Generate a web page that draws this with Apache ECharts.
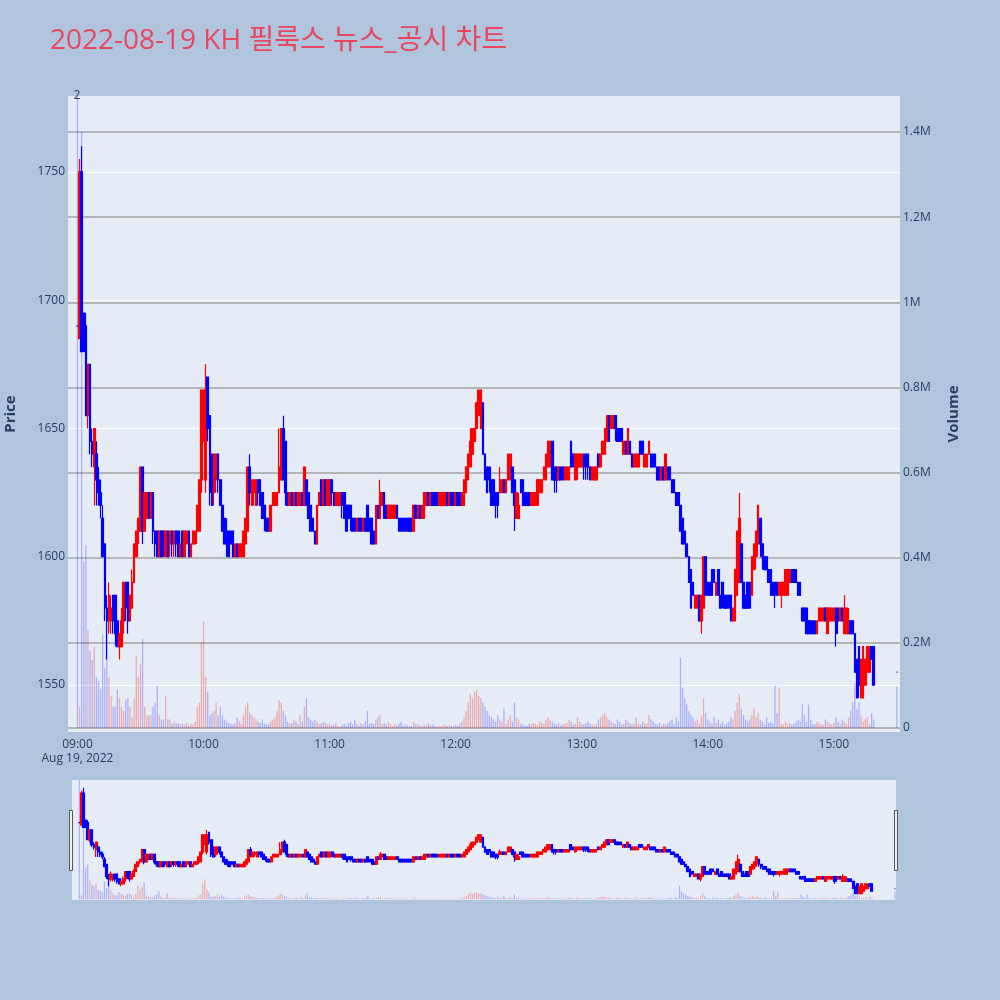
<!DOCTYPE html>
<html><head><meta charset="utf-8">
<script src="https://cdn.jsdelivr.net/npm/echarts@6/dist/echarts.min.js"></script>
<style>html,body{margin:0;padding:0;background:#b0c4de}#c{width:1000px;height:1000px}</style>
</head><body><div id="c"></div><script>
// ---------------- DATA ----------------
const titleText = '2022-08-19 KH 필룩스 뉴스_공시 차트';
const dateLabel = 'Aug 19, 2022';
const firstTime = '09:00';           // time of ohlc[0]
// one row per minute from 09:00 : [open, close, low, high]; null = no trade
const ohlc = [
[1690,1690,1690,1690],[1685,1750,1685,1755],[1750,1680,1680,1760],[1695,1680,1680,1695],[1690,1655,1655,1695],[1655,1675,1650,1675],[1675,1645,1640,1675],[1645,1640,1635,1650],[1635,1650,1620,1650],[1640,1630,1620,1645],
[1630,1625,1620,1635],[1625,1620,1615,1630],[1615,1600,1600,1620],[1605,1580,1575,1605],[1580,1575,1560,1585],[1575,1585,1570,1590],[1575,1580,1570,1585],[1585,1575,1570,1585],[1585,1570,1565,1585],[1575,1565,1565,1575],
[1565,1570,1560,1570],[1565,1575,1565,1580],[1575,1590,1570,1590],[1590,1580,1575,1590],[1590,1575,1570,1590],[1575,1585,1575,1585],[1580,1590,1580,1595],[1590,1605,1590,1605],[1600,1610,1600,1610],[1610,1615,1605,1615],
[1610,1635,1610,1635],[1635,1610,1605,1635],[1610,1625,1610,1625],[1615,1625,1615,1625],[1625,1615,1615,1625],[1615,1625,1615,1625],[1625,1610,1605,1625],[1610,1605,1600,1610],[1610,1600,1600,1610],[1600,1610,1600,1610],
[1610,1600,1600,1610],[1610,1605,1600,1610],[1600,1610,1600,1610],[1610,1600,1600,1610],[1605,1610,1600,1610],[1610,1605,1600,1610],[1605,1610,1600,1610],[1610,1605,1600,1610],[1610,1600,1600,1610],[1600,1605,1600,1605],
[1610,1600,1600,1610],[1600,1610,1600,1610],[1605,1610,1605,1610],[1610,1600,1600,1610],[1600,1605,1600,1605],[1605,1610,1605,1610],[1605,1610,1605,1610],[1610,1620,1605,1620],[1610,1630,1610,1630],[1630,1665,1625,1665],
[1645,1665,1645,1665],[1630,1665,1625,1675],[1670,1650,1645,1670],[1655,1625,1620,1655],[1640,1620,1620,1640],[1625,1640,1620,1640],[1630,1640,1625,1640],[1640,1630,1625,1640],[1630,1620,1620,1630],[1620,1610,1610,1620],
[1615,1605,1605,1615],[1610,1605,1600,1615],[1610,1600,1600,1610],[1610,1605,1605,1610],[1610,1600,1600,1610],[1600,1605,1600,1605],[1605,1600,1600,1605],[1600,1605,1600,1605],[1600,1605,1600,1605],[1600,1610,1600,1610],
[1605,1615,1605,1615],[1610,1635,1610,1635],[1635,1625,1620,1640],[1620,1630,1620,1630],[1625,1630,1620,1630],[1620,1630,1620,1630],[1630,1625,1620,1630],[1630,1620,1620,1630],[1625,1615,1615,1625],[1620,1615,1610,1620],
[1615,1610,1610,1615],[1615,1610,1610,1615],[1610,1620,1610,1620],[1620,1625,1620,1625],[1620,1625,1620,1625],[1620,1625,1620,1625],[1625,1635,1625,1650],[1630,1650,1630,1650],[1650,1630,1630,1655],[1645,1625,1620,1645],
[1625,1620,1620,1625],[1620,1625,1620,1625],[1625,1620,1620,1625],[1620,1625,1620,1625],[1625,1620,1620,1625],[1620,1625,1620,1625],[1620,1625,1620,1625],[1625,1620,1620,1625],[1620,1635,1620,1635],[1630,1620,1620,1630],
[1625,1615,1615,1625],[1620,1610,1610,1620],[1615,1610,1610,1615],[1610,1605,1605,1610],[1605,1620,1605,1620],[1620,1625,1620,1625],[1630,1620,1620,1630],[1620,1630,1620,1630],[1630,1620,1620,1630],[1620,1630,1620,1630],
[1620,1630,1620,1630],[1630,1625,1620,1630],[1625,1620,1620,1625],[1620,1625,1620,1625],[1620,1625,1620,1625],[1620,1625,1620,1625],[1625,1620,1615,1625],[1625,1615,1615,1625],[1620,1610,1610,1620],[1620,1615,1615,1620],
[1620,1615,1610,1620],[1615,1610,1610,1615],[1615,1610,1610,1615],[1610,1615,1610,1615],[1615,1610,1610,1615],[1615,1610,1610,1615],[1610,1615,1610,1615],[1615,1610,1610,1615],[1620,1610,1610,1620],[1615,1610,1610,1615],
[1615,1605,1605,1615],[1610,1605,1605,1610],[1605,1620,1605,1620],[1620,1615,1615,1620],[1615,1625,1615,1630],[1620,1625,1620,1625],[1625,1615,1615,1625],[1620,1615,1615,1620],[1615,1620,1615,1620],[1615,1620,1615,1620],
[1615,1620,1615,1620],[1615,1620,1615,1620],[1620,1615,1615,1620],[1615,1610,1610,1615],[1615,1610,1610,1615],[1615,1610,1610,1615],[1615,1610,1610,1615],[1615,1610,1610,1615],[1615,1610,1610,1615],[1615,1610,1610,1615],
[1610,1620,1610,1620],[1620,1615,1615,1620],[1615,1620,1615,1620],[1620,1615,1615,1620],[1615,1620,1615,1620],[1615,1625,1615,1625],[1620,1625,1620,1625],[1625,1620,1620,1625],[1620,1625,1620,1625],[1625,1620,1620,1625],
[1625,1620,1620,1625],[1625,1620,1620,1625],[1620,1625,1620,1625],[1620,1625,1620,1625],[1620,1625,1620,1625],[1620,1625,1620,1625],[1625,1620,1620,1625],[1620,1625,1620,1625],[1625,1620,1620,1625],[1625,1620,1620,1625],
[1620,1625,1620,1625],[1625,1620,1620,1625],[1625,1620,1620,1625],[1620,1625,1620,1625],[1620,1630,1620,1630],[1625,1635,1625,1635],[1630,1640,1630,1640],[1635,1645,1635,1650],[1640,1650,1640,1650],[1645,1650,1645,1650],
[1650,1660,1650,1660],[1655,1665,1655,1665],[1650,1665,1650,1665],[1660,1640,1640,1660],[1640,1630,1630,1640],[1635,1625,1625,1635],[1635,1630,1625,1635],[1630,1620,1620,1630],[1630,1620,1620,1630],[1625,1620,1615,1625],
[1625,1620,1615,1625],[1625,1630,1625,1635],[1625,1630,1625,1630],[1630,1625,1625,1630],[1625,1630,1625,1630],[1630,1640,1630,1640],[1630,1640,1630,1640],[1635,1625,1625,1635],[1630,1620,1610,1630],[1615,1625,1615,1625],
[1615,1620,1615,1625],[1630,1625,1625,1630],[1630,1620,1620,1630],[1625,1620,1620,1625],[1625,1620,1620,1625],[1625,1620,1620,1625],[1620,1625,1620,1625],[1620,1625,1620,1625],[1620,1625,1620,1625],[1620,1630,1620,1630],
[1625,1630,1625,1630],[1625,1630,1625,1630],[1630,1635,1630,1635],[1630,1640,1630,1640],[1635,1645,1635,1645],[1635,1645,1635,1645],[1645,1630,1630,1645],[1635,1630,1625,1635],[1635,1630,1625,1635],[1630,1635,1630,1635],
[1635,1630,1630,1635],[1635,1630,1630,1635],[1630,1635,1630,1635],[1630,1635,1630,1635],[1630,1635,1630,1635],[1645,1635,1635,1645],[1640,1635,1635,1640],[1630,1640,1630,1640],[1635,1640,1630,1640],[1635,1640,1635,1640],
[1635,1640,1635,1640],[1640,1635,1630,1640],[1640,1635,1630,1640],[1640,1635,1630,1640],[1635,1630,1630,1635],[1630,1635,1630,1635],[1630,1635,1630,1635],[1630,1635,1630,1635],[1640,1635,1635,1640],[1635,1640,1635,1640],
[1640,1645,1640,1645],[1640,1650,1640,1650],[1645,1655,1645,1655],[1655,1645,1645,1655],[1650,1655,1650,1655],[1650,1655,1650,1655],[1655,1650,1645,1655],[1650,1645,1645,1650],[1650,1645,1645,1650],[1650,1645,1645,1650],
[1640,1645,1640,1645],[1645,1640,1640,1645],[1640,1650,1640,1650],[1645,1640,1640,1645],[1640,1635,1635,1640],[1635,1640,1635,1640],[1635,1640,1635,1640],[1635,1640,1635,1640],[1645,1640,1640,1645],[1645,1640,1640,1645],
[1635,1640,1635,1640],[1635,1640,1635,1640],[1640,1645,1640,1645],[1640,1635,1635,1640],[1640,1635,1635,1640],[1640,1635,1635,1640],[1635,1630,1630,1635],[1635,1630,1630,1635],[1630,1635,1630,1635],[1635,1630,1630,1635],
[1630,1640,1630,1640],[1635,1630,1630,1635],[1635,1630,1630,1635],[1630,1625,1625,1630],[1630,1625,1625,1630],[1625,1620,1620,1625],[1625,1620,1620,1625],[1620,1610,1610,1620],[1615,1605,1605,1615],[1610,1605,1605,1610],
[1605,1600,1600,1605],[1600,1590,1590,1600],[1595,1580,1580,1595],[1590,1585,1585,1590],[1580,1585,1580,1585],[1580,1585,1580,1585],[1585,1575,1575,1585],[1575,1585,1570,1585],[1580,1600,1580,1600],[1600,1585,1585,1600],
[1590,1585,1585,1590],[1590,1585,1585,1590],[1595,1585,1585,1595],[1595,1590,1590,1595],[1585,1590,1585,1590],[1595,1585,1585,1595],[1585,1580,1580,1585],[1590,1585,1580,1590],[1585,1580,1580,1585],[1585,1580,1580,1585],
[1585,1580,1580,1585],[1585,1575,1575,1585],[1575,1580,1575,1580],[1575,1595,1575,1595],[1585,1610,1585,1610],[1590,1615,1590,1625],[1605,1590,1590,1605],[1590,1580,1580,1590],[1585,1580,1580,1585],[1590,1580,1580,1590],
[1590,1580,1580,1590],[1585,1600,1585,1600],[1595,1605,1595,1605],[1600,1610,1595,1610],[1605,1620,1600,1620],[1615,1605,1600,1615],[1605,1600,1595,1605],[1600,1595,1595,1600],[1600,1595,1595,1600],[1595,1590,1590,1595],
[1595,1585,1585,1595],[1590,1585,1585,1590],[1590,1585,1580,1590],[1590,1585,1585,1590],[1585,1590,1585,1590],[1585,1590,1580,1590],[1585,1590,1585,1590],[1585,1595,1585,1595],[1585,1595,1585,1595],[1590,1595,1590,1595],
[1595,1590,1590,1595],[1595,1590,1590,1595],[1595,1590,1590,1595],[1590,1585,1585,1590],[1590,1585,1585,1590],[1580,1575,1575,1580],[1580,1575,1575,1580],[1580,1570,1570,1580],[1575,1570,1570,1575],[1575,1570,1570,1575],
[1575,1570,1570,1575],[1575,1570,1570,1575],[1570,1575,1570,1575],[1575,1580,1575,1580],[1575,1580,1575,1580],[1575,1580,1575,1580],[1580,1575,1575,1580],[1570,1580,1570,1580],[1575,1580,1575,1580],[1575,1580,1575,1580],
[1575,1580,1575,1580],[1580,1570,1565,1580],[1580,1575,1570,1580],[1575,1580,1575,1580],[1580,1575,1575,1580],[1570,1580,1570,1585],[1570,1580,1570,1580],[1570,1575,1570,1580],[1575,1570,1570,1575],[1575,1570,1570,1575],
[1570,1555,1555,1570],[1560,1545,1545,1560],[1565,1550,1545,1565],[1545,1560,1545,1560],[1545,1565,1545,1565],[1550,1560,1550,1560],[1555,1565,1555,1565],[1555,1560,1555,1565],[1565,1560,1560,1565],[1565,1550,1550,1565],
null,null,null,null,null,null,null,null,null,null,
[1555,1555,1555,1555]
];
// volume per minute (thousand shares), same order
const volumeK = [
1600,50,1400,390,430,230,180,160,190,120,
110,90,220,140,220,120,75,50,50,90,
70,50,40,66,70,50,25,70,170,120,
150,210,50,30,30,30,50,60,100,30,
20,20,75,20,20,10,15,10,12,8,
10,8,12,6,10,8,15,50,60,200,
250,120,85,30,35,40,60,30,50,30,
20,15,12,10,8,12,25,15,10,30,
50,60,35,30,25,20,15,12,20,10,
8,10,15,20,25,40,65,60,40,30,
15,10,12,20,15,10,30,15,50,70,
25,20,15,20,15,10,12,15,12,8,
10,6,8,12,5,4,8,10,5,12,
15,8,20,10,5,12,8,15,40,10,
12,8,18,25,30,10,12,8,15,10,
5,8,6,10,15,5,8,6,4,5,
15,8,10,6,4,8,5,10,6,8,
5,3,6,4,5,8,4,6,5,4,
8,5,10,15,25,40,60,80,70,85,
90,75,70,60,50,40,30,25,20,15,
30,20,15,45,10,20,30,15,60,25,
20,10,8,5,6,10,8,12,10,8,
15,12,10,20,25,18,15,10,8,12,
6,8,10,12,20,15,8,10,25,15,
10,8,12,15,10,8,6,10,20,25,
30,35,25,20,15,12,10,20,15,8,
10,20,15,12,8,10,25,10,8,15,
12,10,30,20,15,10,8,12,6,10,
8,12,15,20,10,25,15,165,95,70,
55,40,30,25,15,20,10,30,70,35,
20,15,10,25,12,20,10,15,8,12,
15,25,20,40,60,80,45,30,20,15,
20,30,45,25,35,20,15,10,25,12,
15,10,100,35,95,10,8,15,10,12,
8,10,15,20,15,55,30,15,55,20,
10,8,15,12,10,8,20,15,10,8,
12,25,15,10,20,15,10,25,40,60,
105,45,60,30,15,20,25,10,35,20,
null,null,null,null,null,null,null,null,null,null,
97
];
const hourTicks = ['09:00','10:00','11:00','12:00','13:00','14:00','15:00'];

// ---------------- BUILD ----------------
const FONT = "'Open Sans', 'Noto Sans CJK KR', sans-serif";
const TXT = '#2a3f5f';
const UP = '#ff0000', DOWN = '#0000ff';
const toMin = t => { const [h, m] = t.split(':').map(Number); return h * 60 + m; };
const hhmm = v => String(Math.floor(v / 60)).padStart(2, '0') + ':' + String(v % 60).padStart(2, '0');
const t0 = toMin(firstTime);
const mainCats = []; for (let v = t0 - 4; v <= t0 + ohlc.length; v++) mainCats.push(hhmm(v));
const miniCats = []; for (let v = t0 - 3; v <= t0 + ohlc.length - 1; v++) miniCats.push(hhmm(v));

const candleData = [], volData = [];
ohlc.forEach((d, i) => {
  if (!d) return;
  const t = hhmm(t0 + i);
  const up = d[1] > d[0];
  const c = up ? UP : DOWN;
  candleData.push({ value: [t, d[0], d[1], d[2], d[3]], itemStyle: { color: c, color0: c, borderColor: c, borderColor0: c } });
  if (volumeK[i] != null) volData.push({ value: [t, volumeK[i]], itemStyle: { color: up ? 'rgba(255,0,0,0.28)' : 'rgba(0,0,255,0.25)' } });
});

const chart = echarts.init(document.getElementById('c'), null, { renderer: 'canvas' });
chart.setOption({
  animation: false,
  backgroundColor: '#b0c4de',
  title: { text: titleText, left: 50, top: 27, padding: 0,
    textStyle: { color: '#e8475f', fontSize: 28, fontWeight: 'normal', fontFamily: FONT } },
  grid: [
    { left: 68, top: 96, width: 832, height: 636, show: true, backgroundColor: '#e5ecf6', borderWidth: 0, containLabel: false, outerBoundsMode: 'none' },
    { left: 72, top: 780, width: 824, height: 120, show: true, backgroundColor: '#e5ecf6', borderWidth: 0, containLabel: false, outerBoundsMode: 'none' }
  ],
  xAxis: [
    { type: 'category', gridIndex: 0, data: mainCats, boundaryGap: true,
      axisLine: { show: false }, axisTick: { show: false }, splitLine: { show: false },
      axisLabel: { interval: (idx, val) => hourTicks.includes(val),
        formatter: val => val === hourTicks[0] ? val + '\n' + dateLabel : val,
        color: TXT, fontSize: 12, fontFamily: FONT, margin: 6, lineHeight: 14 } },
    { type: 'category', gridIndex: 1, data: miniCats, boundaryGap: true, show: false }
  ],
  yAxis: [
    { type: 'value', gridIndex: 0, position: 'left', min: 1531.7, max: 1779.6, splitNumber: 5,
      name: 'Price', nameLocation: 'middle', nameGap: 50, nameRotate: 90,
      nameTextStyle: { color: TXT, fontSize: 15, fontWeight: 'bold', fontFamily: FONT },
      axisLine: { show: false }, axisTick: { show: false },
      axisLabel: { color: TXT, fontSize: 12, fontFamily: FONT, margin: 3, showMinLabel: false, showMaxLabel: false,
        formatter: v => String(v) },
      splitLine: { show: true, showMinLine: false, showMaxLine: false, lineStyle: { color: '#ffffff', width: 1.2 } } },
    { type: 'value', gridIndex: 0, position: 'right', min: -9.4, max: 1484.5, splitNumber: 7,
      name: 'Volume', nameLocation: 'middle', nameGap: 46, nameRotate: 90,
      nameTextStyle: { color: TXT, fontSize: 15, fontWeight: 'bold', fontFamily: FONT },
      axisLine: { show: false }, axisTick: { show: false },
      axisLabel: { color: TXT, fontSize: 12, fontFamily: FONT, margin: 3, showMinLabel: false, showMaxLabel: false,
        formatter: v => v === 0 ? '0' : (v / 1000) + 'M' },
      splitLine: { show: true, showMinLine: false, showMaxLine: false, lineStyle: { color: '#a3a3a3', width: 1.6 } } },
    { type: 'value', gridIndex: 1, min: 1532, max: 1777, show: false, splitLine: { show: false } },
    { type: 'value', gridIndex: 1, min: -9.4, max: 1484.5, show: false, splitLine: { show: false } }
  ],
  series: [
    { type: 'bar', xAxisIndex: 0, yAxisIndex: 1, barWidth: 1.3, data: volData, encode: { x: 0, y: 1 }, z: 2 },
    { type: 'candlestick', xAxisIndex: 0, yAxisIndex: 0, barWidth: 2, data: candleData,
      encode: { x: 0, y: [1, 2, 3, 4] }, itemStyle: { borderWidth: 1.2 }, z: 3 },
    { type: 'bar', xAxisIndex: 1, yAxisIndex: 3, barWidth: 1.2, data: volData, encode: { x: 0, y: 1 }, z: 2 },
    { type: 'candlestick', xAxisIndex: 1, yAxisIndex: 2, barWidth: 2.4, data: candleData,
      encode: { x: 0, y: [1, 2, 3, 4] }, itemStyle: { borderWidth: 1.2 }, z: 3 }
  ],
  graphic: [
    { type: 'text', x: 77, y: 96, z: 10, style: { text: '2', fill: TXT, font: '12px ' + FONT, align: 'center', verticalAlign: 'middle' } },
    { type: 'rect', shape: { x: 69.5, y: 810.5, width: 3, height: 60 }, style: { fill: '#f0f0f0', stroke: '#555', lineWidth: 1 }, z: 10 },
    { type: 'rect', shape: { x: 894.5, y: 810.5, width: 3, height: 60 }, style: { fill: '#f0f0f0', stroke: '#555', lineWidth: 1 }, z: 10 }
  ]
});
</script></body></html>
